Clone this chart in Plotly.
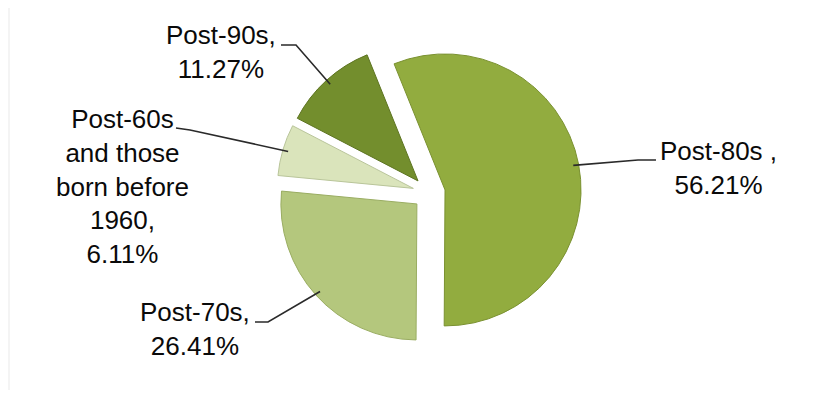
import math
import plotly.graph_objects as go

# ---- data ----
categories = ["Post-80s", "Post-70s", "Post-60s and those born before 1960", "Post-90s"]
shares = [56.21, 26.41, 6.11, 11.27]
label_names = ["Post-80s ,", "Post-70s,", "Post-60s<br>and those<br>born before<br>1960,", "Post-90s,"]
colors = ["#92ac3f", "#b4c77d", "#dae4bb", "#738e2d"]
edge_colors = ["#7a9130", "#9aad62", "#b9c59a", "#5d7421"]

# ---- layout geometry (pixels) ----
W, H = 839, 398
rotation = -22
pull = 0.12
cx, cy = 429, 193
r = 136
box = 2 * r * (1 + pull)

def px(x):
    return x / W

def py(y):
    return 1 - y / H

domain_x = [px(cx - box / 2), px(cx + box / 2)]
domain_y = [py(cy + box / 2), py(cy - box / 2)]

fig = go.Figure(go.Pie(
    labels=categories,
    values=shares,
    sort=False,
    direction="clockwise",
    rotation=rotation,
    pull=[pull] * len(shares),
    marker=dict(colors=colors, line=dict(color=edge_colors, width=1.0)),
    textinfo="none",
    hoverinfo="label+percent",
    showlegend=False,
    domain=dict(x=domain_x, y=domain_y),
))

# label text positions (pixel centres) and leader-line elbows / ends
text_pos = [(718, 168), (195, 329), (122, 186), (221, 52)]
elbows = [[(638, 160), (656, 160)],
          [(268, 322), (255, 322)],
          [(190, 130), (176, 128)],
          [(296, 45), (281, 45)]]

total = sum(shares)
cum = 0
shapes = []
annotations = []
for i, v in enumerate(shares):
    mid = math.radians(rotation + 360 * (cum + v / 2) / total)
    cum += v
    ax = cx + (pull + 0.96) * r * math.sin(mid)
    ay = cy - (pull + 0.96) * r * math.cos(mid)
    pts = [(ax, ay)] + elbows[i]
    path = "M " + " L ".join(f"{px(x):.5f},{py(y):.5f}" for x, y in pts)
    shapes.append(dict(type="path", path=path, xref="paper", yref="paper",
                       line=dict(color="#2a2a2a", width=1.6)))
    tx, ty = text_pos[i]
    annotations.append(dict(
        x=px(tx), y=py(ty), xref="paper", yref="paper",
        text=f"{label_names[i]}<br>{v:.2f}%",
        showarrow=False, xanchor="center", yanchor="middle", align="center",
        font=dict(family="Liberation Sans, Arial, sans-serif", size=26, color="#0a0a0a"),
    ))

# faint frame line at left
shapes.append(dict(type="line", xref="paper", yref="paper",
                   x0=px(9), x1=px(9), y0=py(8), y1=py(390),
                   line=dict(color="#f0f0f0", width=1.5)))

fig.update_layout(
    width=W, height=H,
    margin=dict(l=0, r=0, t=0, b=0),
    paper_bgcolor="white", plot_bgcolor="white",
    shapes=shapes,
    annotations=annotations,
)

fig.write_html("out.html")
